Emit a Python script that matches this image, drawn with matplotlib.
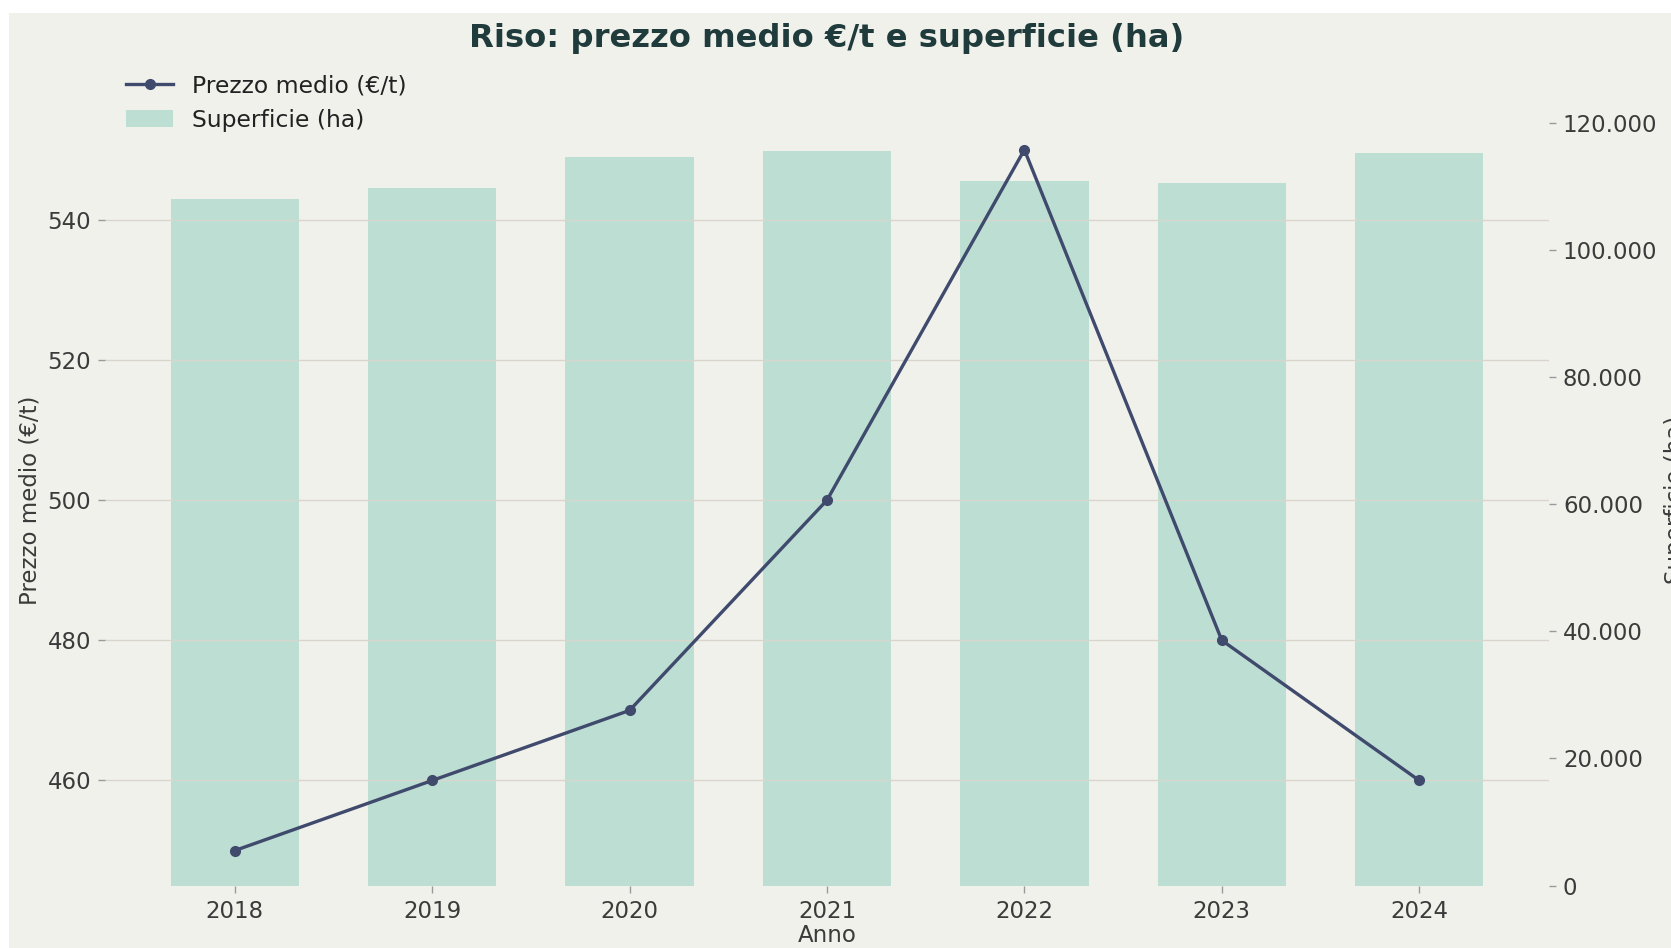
import matplotlib.pyplot as plt
from matplotlib.patches import Rectangle
from matplotlib.ticker import FuncFormatter

anni = [2018, 2019, 2020, 2021, 2022, 2023, 2024]
prezzo = [450, 460, 470, 500, 550, 480, 460]
superficie = [108000, 109800, 114700, 115500, 110900, 110600, 115300]

bg = '#f1f1ec'
bar_col = '#bddfd3'
line_col = '#3f4a6d'
txt_col = '#3b3b3b'

plt.rcParams['font.family'] = ['DejaVu Sans']
plt.rcParams['font.size'] = 16.5

fig = plt.figure(figsize=(16.71, 9.48), dpi=100, facecolor='white')
fig.patches.append(Rectangle((9/1671, 0), 1, 1 - 13/948, transform=fig.transFigure,
                             facecolor=bg, edgecolor='none', zorder=-1))

ax = fig.add_axes([0.0628, 0.0658, 0.927 - 0.0628, 0.879 - 0.0658])
ax2 = ax.twinx()

ax2.bar(anni, superficie, width=0.65, color=bar_col, label='Superficie (ha)', zorder=1)
ax.plot(anni, prezzo, color=line_col, lw=2.4, marker='o', ms=7, label='Prezzo medio (€/t)')

# line axis on top so the grid shows over the bars
ax.set_zorder(ax2.get_zorder() + 1)
ax.patch.set_visible(False)
ax2.set_facecolor(bg)

ax.set_xticks(anni)
ax.set_yticks([460, 480, 500, 520, 540])
ax.grid(axis='y', color='#d8d6cc', lw=1)
ax.set_axisbelow(True)
ax2.yaxis.set_major_formatter(FuncFormatter(lambda v, p: f"{v:,.0f}".replace(",", ".")))

for a in (ax, ax2):
    for s in a.spines.values():
        s.set_visible(False)
    a.tick_params(colors='#9a9a9a', labelcolor=txt_col, length=5, width=1, pad=5)

ax.set_xlabel('Anno', color=txt_col, labelpad=1)
ax.set_ylabel('Prezzo medio (€/t)', color=txt_col)
ax2.set_ylabel('Superficie (ha)', color=txt_col, labelpad=5)

fig.text(827/1671, 1 - 39/948, 'Riso: prezzo medio €/t e superficie (ha)',
         ha='center', va='center', fontsize=23.2, fontweight='bold', color='#1f3b3b')

h1, l1 = ax.get_legend_handles_labels()
h2, l2 = ax2.get_legend_handles_labels()
fig.legend(h1 + h2, l1 + l2, loc='center left', bbox_to_anchor=(117/1671, 1 - 103/948),
           frameon=False, fontsize=16.9, borderaxespad=0, labelcolor='#222222')

fig.savefig('out.png', dpi=100, facecolor=fig.get_facecolor())
